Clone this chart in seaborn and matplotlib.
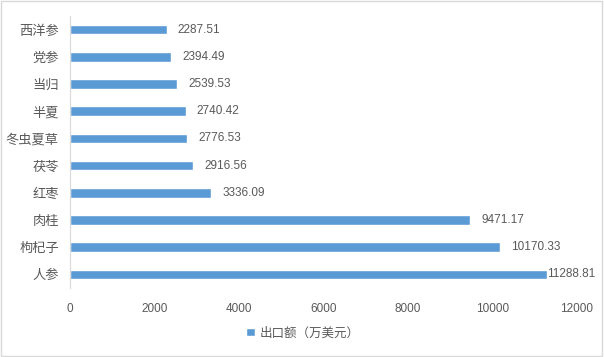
import matplotlib
matplotlib.use("Agg")
import matplotlib.pyplot as plt
import seaborn as sns
import pandas as pd
from matplotlib.patches import Rectangle

categories = ["西洋参", "党参", "当归", "半夏", "冬虫夏草", "茯苓", "红枣", "肉桂", "枸杞子", "人参"]
values = [2287.51, 2394.49, 2539.53, 2740.42, 2776.53, 2916.56, 3336.09, 9471.17, 10170.33, 11288.81]
value_labels = ["2287.51", "2394.49", "2539.53", "2740.42", "2776.53", "2916.56", "3336.09", "9471.17", "10170.33", "11288.81"]
x_ticks = [0, 2000, 4000, 6000, 8000, 10000, 12000]
series_name = "出口额（万美元）"

sns.set_theme(style="white")
plt.rcParams["font.family"] = ["Noto Sans CJK SC", "DejaVu Sans"]

df = pd.DataFrame({"cat": categories, "val": values})

fig = plt.figure(figsize=(6.04, 3.57), dpi=100)
ax = fig.add_axes([70/604, 1-288/357, (577-70)/604, (288-16)/357])

bar_color = "#5B9BD5"
text_color = "#595959"
sns.barplot(data=df, x="val", y="cat", orient="h", color=bar_color, width=0.36,
            saturation=1, ax=ax, label=series_name)

ax.set_xlim(0, 12000)
ax.set_xticks(x_ticks)
ax.set_xticklabels([str(t) for t in x_ticks], fontsize=8.5, color=text_color,
                   family=["Liberation Sans", "DejaVu Sans"])
ax.tick_params(axis="x", length=0, pad=11)
ax.tick_params(axis="y", length=0, pad=8, labelsize=9.5, labelcolor=text_color)
ax.set_xlabel("")
ax.set_ylabel("")
for s in ["top", "right", "bottom"]:
    ax.spines[s].set_visible(False)
ax.spines["left"].set_color("#d9d9d9")
ax.spines["left"].set_linewidth(0.8)

for i, (v, lab) in enumerate(zip(values, value_labels)):
    off = 8 if v < 11000 else 0
    ax.annotate(lab, (v, i), xytext=(off, 0), textcoords="offset points",
                va="center", ha="left", fontsize=8.5, color=text_color,
                family=["Liberation Sans", "DejaVu Sans"])

leg = ax.legend(loc="center", bbox_to_anchor=(0.46, -0.165), frameon=False,
                handlelength=0.7, handleheight=0.7, handletextpad=0.4,
                fontsize=9, labelcolor=text_color)

fig.patches.append(Rectangle((0.002, 0.003), 0.995, 0.993, transform=fig.transFigure,
                             fill=False, edgecolor="#d9d9d9", linewidth=1))

fig.savefig("out.png", dpi=100)
